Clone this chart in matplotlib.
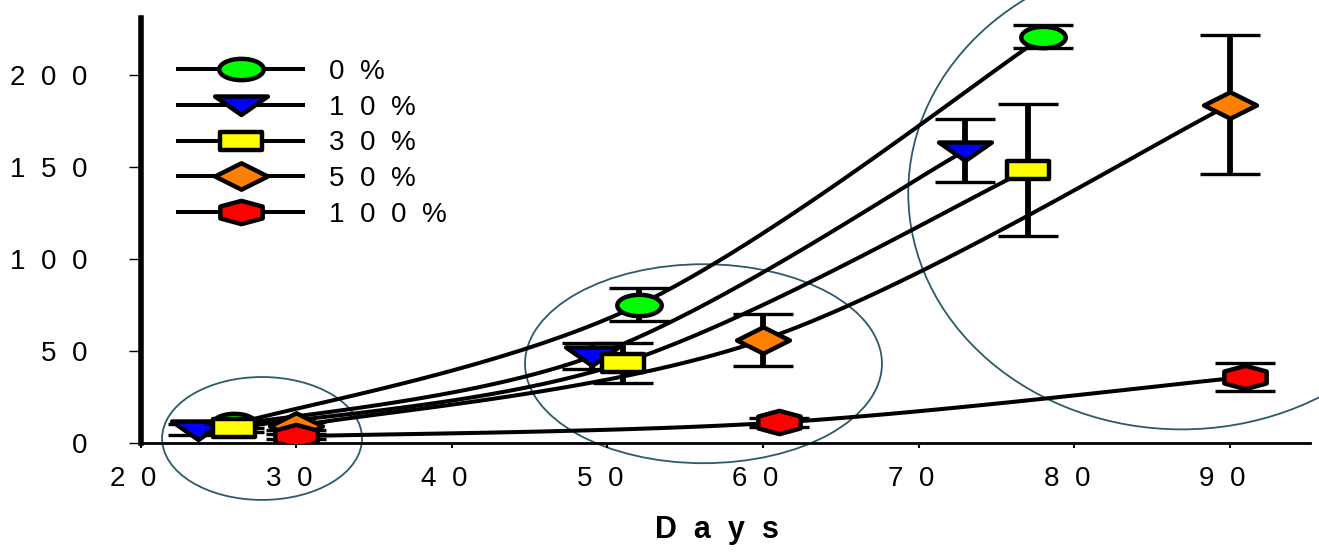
import numpy as np
import matplotlib
matplotlib.use("Agg")
import matplotlib.pyplot as plt
import matplotlib.transforms as mtransforms
from matplotlib.path import Path
from matplotlib.markers import MarkerStyle
from matplotlib.patches import Ellipse
from matplotlib.lines import Line2D

plt.rcParams['font.family'] = ['Liberation Sans', 'DejaVu Sans']

# ---- data -------------------------------------------------------------
legend_labels = ['0  %', '1  0  %', '3  0  %', '5  0  %', '1  0  0  %']
colors = ['#00FF00', '#0000FF', '#FFFF00', '#FF8000', '#FF0000']

days_0 = [26, 52, 78]
growth_0 = [10, 75, 221]
err_0 = [2, 9, 6.4]

days_10 = [23.7, 49, 73]
growth_10 = [7, 47, 159]
err_10 = [3, 7, 17]

days_30 = [26, 51, 77]
growth_30 = [8, 43.5, 148.5]
err_30 = [2, 11, 36]

days_50 = [30, 60, 90]
growth_50 = [9, 56, 184]
err_50 = [2, 14.3, 38]

days_100 = [30, 61, 91]
growth_100 = [3.5, 11, 35.8]
err_100 = [1.5, 2.7, 7.5]

x_ticks = [20, 30, 40, 50, 60, 70, 80, 90]
y_ticks = [0, 50, 100, 150, 200]

series = [
    (days_0, growth_0, err_0),
    (days_10, growth_10, err_10),
    (days_30, growth_30, err_30),
    (days_50, growth_50, err_50),
    (days_100, growth_100, err_100),
]


# ---- marker shapes (wide, flat symbols) --------------------------------
def closed(verts):
    verts = list(verts) + [verts[0]]
    codes = [Path.MOVETO] + [Path.LINETO] * (len(verts) - 2) + [Path.CLOSEPOLY]
    return Path(verts, codes)


th = np.linspace(0, 2 * np.pi, 60, endpoint=False)
ellipse_path = closed([(np.cos(t), 0.48 * np.sin(t)) for t in th])
tri_path = closed([(-1, 0.34), (1, 0.34), (0, -0.36)])
rect_path = closed([(-1, 0.44), (1, 0.44), (1, -0.44), (-1, -0.44)])
diamond_path = closed([(-1, 0), (0, 0.5), (1, 0), (0, -0.5)])
hex_path = closed([(0, 0.55), (1, 0.28), (1, -0.28), (0, -0.55),
                   (-1, -0.28), (-1, 0.28)])

marker_paths = [ellipse_path, tri_path, rect_path, diamond_path, hex_path]
marker_sizes = [32, 38, 30.5, 38, 30.5]
markers = [MarkerStyle(p, joinstyle='miter') for p in marker_paths]
MEW = 3.2


def smooth_curve(xs, ys, n=60):
    """Piecewise cubic Bezier through the points (spreadsheet-style smoothing)."""
    pts = np.column_stack([xs, ys]).astype(float)
    out = []
    t = np.linspace(0, 1, n)[:, None]
    for i in range(len(pts) - 1):
        p0 = pts[i - 1] if i > 0 else pts[i]
        p1, p2 = pts[i], pts[i + 1]
        p3 = pts[i + 2] if i + 2 < len(pts) else pts[i + 1]
        c1 = p1 + (p2 - p0) / 6.0
        c2 = p2 - (p3 - p1) / 6.0
        seg = ((1 - t) ** 3) * p1 + 3 * ((1 - t) ** 2) * t * c1 \
            + 3 * (1 - t) * t ** 2 * c2 + t ** 3 * p2
        out.append(seg if i == 0 else seg[1:])
    return np.vstack(out)


# ---- figure -----------------------------------------------------------
W, H = 1319, 555
fig = plt.figure(figsize=(W / 100, H / 100), dpi=100)
ax = fig.add_axes([140.7 / W, 1 - 442.7 / H, (1310 - 140.7) / W, (442.7 - 18.3) / H])
ax.set_xlim(20, 95.15)
ax.set_ylim(0, 231)

LW = 2.9
for i, (xs, ys, es) in enumerate(series):
    c = smooth_curve(xs, ys)
    ax.plot(c[:, 0], c[:, 1], color='black', lw=LW, zorder=2,
            solid_capstyle='butt')

for i, (xs, ys, es) in enumerate(series):
    ax.errorbar(xs, ys, yerr=es, fmt='none', ecolor='black', elinewidth=4.2,
                capsize=21.4, capthick=2.4, zorder=3 + i)
    ax.plot(xs, ys, linestyle='none', marker=markers[i], ms=marker_sizes[i],
            mfc=colors[i], mec='black', mew=MEW, zorder=3.5 + i)

# highlight ellipses around the three sampling periods
ell_color = '#2B5A6B'
for (cx, cy, w, h) in [(27.8, 2.3, 12.85, 66.9),
                       (56.17, 43.0, 22.94, 108.3),
                       (86.9, 135.9, 35.14, 257.3)]:
    ax.add_patch(Ellipse((cx, cy), w, h, fill=False, ec=ell_color, lw=1.3,
                         zorder=1.5, clip_on=False))

# ---- axes styling -----------------------------------------------------
for s in ['top', 'right']:
    ax.spines[s].set_visible(False)
ax.spines['left'].set_linewidth(4.0)
ax.spines['bottom'].set_linewidth(2.0)

ax.set_xticks(x_ticks)
ax.set_xticklabels(['  '.join(str(v)) for v in x_ticks])
ax.set_yticks(y_ticks)
ax.set_yticklabels(['  '.join(str(v)) for v in y_ticks])

ax.tick_params(axis='y', direction='out', length=8.6, width=1.0, pad=30,
               labelsize=20)
ax.tick_params(axis='x', direction='out', length=3.6, width=1.5, pad=13,
               labelsize=20)

shift = mtransforms.ScaledTranslation(-7.5 / 100, 0, fig.dpi_scale_trans)
for lab in ax.get_xticklabels():
    lab.set_transform(lab.get_transform() + shift)

ax.set_xlabel('D  a  y  s', fontsize=22, fontweight='bold')
ax.xaxis.set_label_coords((716.5 - 140.7) / (1310 - 140.7),
                          (442.7 - 515) / (442.7 - 18.3))

# ---- legend -----------------------------------------------------------
handles = [Line2D([], [], color='black', lw=LW, marker=markers[i],
                  ms=marker_sizes[i], mfc=colors[i], mec='black', mew=MEW)
           for i in range(len(series))]
ax.legend(handles, legend_labels, loc='upper left',
          bbox_to_anchor=(178 / W, 1 - 59 / H), bbox_transform=fig.transFigure,
          frameon=False, borderpad=0, borderaxespad=0, handlelength=4.5,
          handletextpad=0.95, labelspacing=0.35, fontsize=20)

fig.savefig('out.png', dpi=100)
